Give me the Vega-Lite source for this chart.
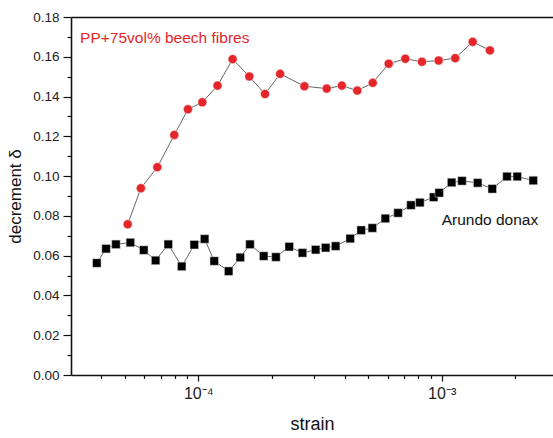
{
  "$schema": "https://vega.github.io/schema/vega-lite/v6.json",
  "width": 482,
  "height": 358,
  "autosize": {"type": "none"},
  "padding": {"left": 71, "top": 17, "right": 0, "bottom": 63},
  "background": "white",
  "config": {
    "view": {"stroke": null},
    "font": "Liberation Sans",
    "axis": {
      "grid": false,
      "domainColor": "#111",
      "domainWidth": 1.6,
      "tickColor": "#111",
      "tickWidth": 1.2,
      "labelFont": "Liberation Sans",
      "labelFontSize": 13.5,
      "labelColor": "#222",
      "titleFont": "Liberation Sans",
      "titleFontWeight": "normal",
      "titleColor": "#111"
    }
  },
  "datasets": {
    "beech": [
      {"strain": 5.13e-5, "decrement": 0.0758},
      {"strain": 5.81e-5, "decrement": 0.0939},
      {"strain": 6.79e-5, "decrement": 0.1045},
      {"strain": 7.97e-5, "decrement": 0.1207},
      {"strain": 9.07e-5, "decrement": 0.1336},
      {"strain": 1.039e-4, "decrement": 0.1371},
      {"strain": 1.20e-4, "decrement": 0.1455},
      {"strain": 1.384e-4, "decrement": 0.1588},
      {"strain": 1.62e-4, "decrement": 0.1501},
      {"strain": 1.88e-4, "decrement": 0.1413},
      {"strain": 2.17e-4, "decrement": 0.1514},
      {"strain": 2.73e-4, "decrement": 0.1452},
      {"strain": 3.37e-4, "decrement": 0.1440},
      {"strain": 3.89e-4, "decrement": 0.1455},
      {"strain": 4.50e-4, "decrement": 0.1430},
      {"strain": 5.21e-4, "decrement": 0.1469},
      {"strain": 6.06e-4, "decrement": 0.1565},
      {"strain": 7.09e-4, "decrement": 0.1590},
      {"strain": 8.30e-4, "decrement": 0.1575},
      {"strain": 9.72e-4, "decrement": 0.1581},
      {"strain": 1.137e-3, "decrement": 0.1593},
      {"strain": 1.341e-3, "decrement": 0.1675},
      {"strain": 1.579e-3, "decrement": 0.1632}
    ],
    "arundo": [
      {"strain": 3.83e-5, "decrement": 0.0563},
      {"strain": 4.18e-5, "decrement": 0.0635},
      {"strain": 4.59e-5, "decrement": 0.0657},
      {"strain": 5.26e-5, "decrement": 0.0666},
      {"strain": 5.97e-5, "decrement": 0.0628},
      {"strain": 6.68e-5, "decrement": 0.0576},
      {"strain": 7.53e-5, "decrement": 0.0657},
      {"strain": 8.55e-5, "decrement": 0.0546},
      {"strain": 9.63e-5, "decrement": 0.0655},
      {"strain": 1.062e-4, "decrement": 0.0684},
      {"strain": 1.163e-4, "decrement": 0.0573},
      {"strain": 1.333e-4, "decrement": 0.0522},
      {"strain": 1.488e-4, "decrement": 0.0591},
      {"strain": 1.631e-4, "decrement": 0.0657},
      {"strain": 1.857e-4, "decrement": 0.0598},
      {"strain": 2.085e-4, "decrement": 0.0593},
      {"strain": 2.365e-4, "decrement": 0.0645},
      {"strain": 2.68e-4, "decrement": 0.0614},
      {"strain": 3.036e-4, "decrement": 0.0630},
      {"strain": 3.337e-4, "decrement": 0.0640},
      {"strain": 3.668e-4, "decrement": 0.0648},
      {"strain": 4.21e-4, "decrement": 0.0686},
      {"strain": 4.67e-4, "decrement": 0.0728},
      {"strain": 5.19e-4, "decrement": 0.0739},
      {"strain": 5.87e-4, "decrement": 0.0787},
      {"strain": 6.62e-4, "decrement": 0.0815},
      {"strain": 7.48e-4, "decrement": 0.0854},
      {"strain": 8.14e-4, "decrement": 0.0867},
      {"strain": 9.27e-4, "decrement": 0.0894},
      {"strain": 9.77e-4, "decrement": 0.0916},
      {"strain": 1.099e-3, "decrement": 0.0968},
      {"strain": 1.212e-3, "decrement": 0.0976},
      {"strain": 1.406e-3, "decrement": 0.0966},
      {"strain": 1.614e-3, "decrement": 0.0936},
      {"strain": 1.855e-3, "decrement": 0.0998},
      {"strain": 2.045e-3, "decrement": 0.0998},
      {"strain": 2.378e-3, "decrement": 0.0978}
    ],
    "labels": [
      {"strain": 3.27e-5, "decrement": 0.1669, "text": "PP+75vol% beech fibres", "series": "beech"},
      {"strain": 1.0e-3, "decrement": 0.0756, "text": "Arundo donax", "series": "arundo"}
    ]
  },
  "layer": [
    {
      "data": {"name": "arundo"},
      "mark": {"type": "line", "color": "#666", "strokeWidth": 1},
      "encoding": {
        "x": {
          "field": "strain", "type": "quantitative",
          "scale": {"type": "log", "domain": [3e-5, 2.867e-3], "nice": false},
          "axis": {
            "orient": "bottom",
            "values": [0.0001, 0.001],
            "labelExpr": "datum.value < 0.0005 ? '10⁻⁴' : '10⁻³'",
            "labelFont": "Liberation Sans",
            "labelFontSize": 16,
            "tickSize": 6,
            "labelPadding": 4,
            "title": "strain",
            "titleFontSize": 18,
            "titlePadding": 14
          }
        },
        "y": {
          "field": "decrement", "type": "quantitative",
          "scale": {"domain": [0, 0.18], "nice": false, "zero": true},
          "axis": {
            "orient": "left",
            "values": [0, 0.02, 0.04, 0.06, 0.08, 0.1, 0.12, 0.14, 0.16, 0.18],
            "format": ".2f",
            "tickSize": 8,
            "labelPadding": 4,
            "title": "decrement δ",
            "titleFontSize": 17,
            "titlePadding": 8
          }
        }
      }
    },
    {
      "data": {"name": "beech"},
      "mark": {"type": "line", "color": "#666", "strokeWidth": 1},
      "encoding": {
        "x": {
          "field": "strain", "type": "quantitative",
          "scale": {"type": "log", "domain": [3e-5, 2.867e-3], "nice": false},
          "axis": {
            "orient": "bottom",
            "values": [4e-5, 5e-5, 6e-5, 7e-5, 8e-5, 9e-5, 2e-4, 3e-4, 4e-4, 5e-4, 6e-4, 7e-4, 8e-4, 9e-4, 2e-3],
            "labels": false,
            "domain": false,
            "tickSize": 3.5,
            "title": null
          }
        },
        "y": {
          "field": "decrement", "type": "quantitative",
          "scale": {"domain": [0, 0.18], "nice": false},
          "axis": {
            "orient": "left",
            "values": [0.01, 0.03, 0.05, 0.07, 0.09, 0.11, 0.13, 0.15, 0.17],
            "labels": false,
            "domain": false,
            "tickSize": 4,
            "title": null
          }
        }
      }
    },
    {
      "data": {"name": "arundo"},
      "mark": {"type": "point", "shape": "square", "filled": true, "color": "#000", "size": 72, "opacity": 1, "stroke": "#ddd", "strokeWidth": 0.5},
      "encoding": {
        "x": {
          "field": "strain", "type": "quantitative",
          "scale": {"type": "log", "domain": [3e-5, 2.867e-3], "nice": false},
          "axis": {"orient": "top", "ticks": false, "labels": false, "domain": true, "title": null}
        },
        "y": {"field": "decrement", "type": "quantitative", "axis": null}
      }
    },
    {
      "data": {"name": "beech"},
      "mark": {"type": "point", "shape": "circle", "filled": true, "color": "#e4262b", "size": 82, "opacity": 1, "stroke": "#f5dede", "strokeWidth": 0.6},
      "encoding": {
        "x": {"field": "strain", "type": "quantitative", "axis": null},
        "y": {"field": "decrement", "type": "quantitative", "axis": null}
      }
    },
    {
      "data": {"name": "labels"},
      "mark": {"type": "text", "align": "left", "baseline": "alphabetic", "fontSize": 15.5, "font": "Liberation Sans"},
      "encoding": {
        "x": {"field": "strain", "type": "quantitative", "axis": null},
        "y": {"field": "decrement", "type": "quantitative", "axis": null},
        "text": {"field": "text"},
        "color": {
          "field": "series", "type": "nominal",
          "scale": {"domain": ["beech", "arundo"], "range": ["#e4262b", "#111"]},
          "legend": null
        }
      }
    }
  ],
  "resolve": {"axis": {"x": "independent", "y": "independent"}}
}
